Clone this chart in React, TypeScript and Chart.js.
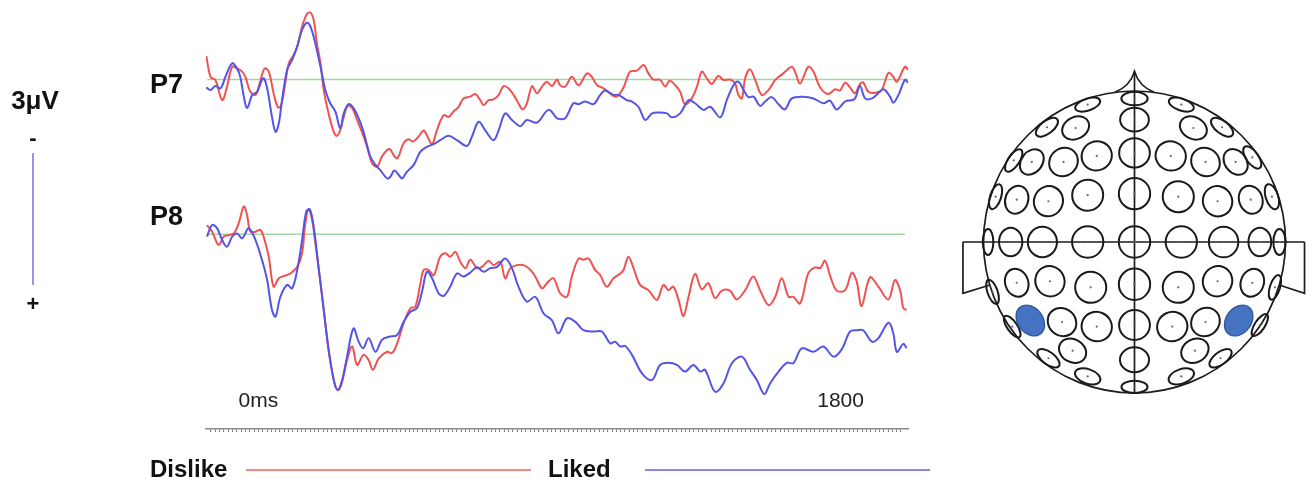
import React, { useEffect, useRef } from 'react';
import { Chart, registerables } from 'chart.js';

Chart.register(...registerables);

// ---- Data: [time (ms), amplitude (µV, negative plotted up)] ----
const p7Dislike: [number, number][] = [[-161,-0.53],[-148,-0.06],[-133,0.01],[-112,0.47],[-97,0.16],[-81,-0.29],[-66,-0.25],[-50,-0.18],[-40,-0.06],[-25,0.28],[-9,0.35],[1,0.16],[19,-0.25],[32,-0.18],[47,0.31],[60,0.63],[70,0.60],[83,0.09],[94,-0.37],[109,-0.56],[120,-0.75],[135,-1.20],[150,-1.49],[161,-1.52],[171,-1.35],[181,-0.82],[192,-0.37],[202,0.24],[217,0.77],[233,1.19],[243,1.28],[253,1.15],[264,0.85],[276,0.60],[290,0.65],[305,0.92],[320,1.19],[336,1.53],[351,1.90],[367,1.98],[382,1.75],[398,1.60],[408,1.59],[418,1.72],[430,1.79],[449,1.45],[464,1.36],[478,1.41],[495,1.30],[511,1.16],[523,1.30],[537,1.47],[552,1.15],[573,0.81],[588,0.85],[603,0.73],[619,0.62],[634,0.43],[655,0.39],[671,0.33],[686,0.47],[696,0.58],[712,0.47],[727,0.45],[743,0.35],[758,0.15],[773,0.20],[789,0.35],[804,0.54],[817,0.68],[830,0.54],[846,0.15],[861,0.31],[877,0.16],[892,0.05],[908,0.15],[923,0.00],[933,0.13],[949,0.16],[969,-0.06],[990,0.13],[1016,-0.14],[1031,-0.06],[1047,0.13],[1067,0.20],[1093,0.35],[1108,0.39],[1129,0.18],[1149,-0.18],[1170,-0.20],[1191,-0.33],[1206,-0.14],[1221,0.00],[1242,0.01],[1258,0.16],[1271,0.03],[1289,0.13],[1304,0.28],[1319,0.56],[1340,0.43],[1356,0.16],[1371,-0.18],[1386,-0.03],[1402,0.10],[1422,-0.08],[1438,0.01],[1458,0.00],[1474,0.09],[1484,0.35],[1495,0.43],[1505,-0.03],[1520,-0.23],[1536,0.01],[1556,0.35],[1577,0.24],[1598,0.01],[1623,-0.14],[1649,-0.29],[1659,-0.18],[1675,0.09],[1700,-0.29],[1716,-0.18],[1737,0.18],[1762,0.33],[1783,0.22],[1798,0.25],[1814,0.07],[1829,0.18],[1845,0.31],[1860,0.10],[1870,0.07],[1886,0.28],[1907,0.30],[1927,0.24],[1948,-0.15],[1963,-0.06],[1974,0.05],[1999,-0.29],[2009,-0.22]];

const p7Liked: [number, number][] = [[-161,0.18],[-148,0.24],[-133,0.15],[-117,0.20],[-102,-0.06],[-81,-0.37],[-66,-0.25],[-56,-0.06],[-45,0.39],[-35,0.65],[-19,0.35],[-4,0.28],[15,-0.03],[27,0.20],[42,0.85],[53,1.19],[63,1.00],[73,0.47],[89,-0.22],[104,-0.44],[120,-0.75],[135,-1.13],[150,-1.29],[161,-1.20],[176,-0.82],[192,-0.29],[207,0.24],[222,0.54],[238,0.73],[253,1.11],[264,0.77],[279,0.56],[294,0.65],[310,0.88],[325,1.19],[346,1.75],[362,1.94],[377,2.06],[398,2.25],[408,2.21],[420,2.07],[434,2.17],[444,2.25],[459,2.10],[480,1.94],[501,1.64],[521,1.53],[542,1.47],[562,1.38],[588,1.28],[614,1.38],[645,1.51],[660,1.30],[681,0.96],[701,1.15],[727,1.38],[743,1.15],[763,0.77],[784,0.92],[810,1.06],[830,0.92],[861,0.98],[897,0.69],[923,0.88],[933,0.90],[949,0.88],[974,0.54],[990,0.56],[1010,0.50],[1036,0.56],[1057,0.35],[1072,0.25],[1098,0.35],[1113,0.35],[1139,0.47],[1155,0.50],[1175,0.62],[1196,0.92],[1217,0.77],[1237,0.75],[1263,0.77],[1278,0.86],[1304,0.77],[1330,0.47],[1350,0.54],[1376,0.69],[1397,0.62],[1428,0.86],[1448,0.47],[1469,0.13],[1484,0.05],[1500,0.24],[1515,0.40],[1531,0.39],[1551,0.60],[1567,0.50],[1587,0.40],[1608,0.56],[1628,0.68],[1649,0.43],[1685,0.39],[1716,0.43],[1747,0.54],[1767,0.48],[1788,0.68],[1814,0.50],[1834,0.47],[1845,0.43],[1860,0.15],[1876,0.43],[1897,0.43],[1917,0.31],[1933,0.22],[1953,0.39],[1963,0.53],[1979,0.35],[1999,0.01],[2009,0.07]];

const p8Dislike: [number, number][] = [[-159,-0.21],[-143,-0.06],[-123,0.24],[-107,0.05],[-92,0.02],[-76,-0.02],[-61,-0.25],[-45,-0.63],[-35,-0.44],[-25,-0.06],[-9,-0.06],[6,-0.10],[16,0.05],[32,0.51],[47,1.19],[63,1.00],[78,0.95],[99,0.89],[120,0.74],[135,0.43],[145,-0.25],[155,-0.57],[166,-0.33],[176,0.20],[192,1.11],[207,2.02],[222,2.86],[238,3.46],[248,3.54],[259,3.35],[274,2.86],[290,2.55],[305,2.97],[325,2.74],[341,2.86],[354,3.08],[372,2.82],[398,2.67],[413,2.70],[429,2.48],[449,2.02],[470,1.68],[485,1.65],[501,1.11],[511,0.81],[526,0.81],[542,0.93],[562,0.51],[578,0.43],[593,0.51],[609,0.40],[624,0.62],[640,0.77],[655,0.58],[676,0.77],[691,0.74],[712,0.60],[727,0.70],[748,0.62],[763,1.00],[779,0.77],[799,0.70],[820,0.70],[840,0.80],[856,0.96],[877,1.23],[892,1.11],[912,1.00],[933,1.34],[954,1.42],[969,0.96],[990,0.55],[1005,0.58],[1021,0.55],[1041,0.81],[1057,0.93],[1077,1.19],[1098,1.00],[1119,0.89],[1129,0.81],[1144,0.51],[1160,0.77],[1180,1.15],[1206,1.27],[1232,1.49],[1252,1.15],[1268,1.27],[1283,1.19],[1299,1.49],[1314,1.86],[1330,1.42],[1350,0.90],[1371,1.25],[1391,1.11],[1412,1.45],[1433,1.28],[1458,1.28],[1479,1.48],[1505,1.27],[1530,0.96],[1551,1.27],[1577,1.61],[1598,1.42],[1618,1.00],[1639,1.42],[1654,1.42],[1675,1.57],[1700,0.89],[1721,0.75],[1737,0.77],[1752,0.60],[1767,0.93],[1788,1.28],[1814,1.27],[1835,0.87],[1850,1.08],[1865,1.63],[1891,0.98],[1917,1.19],[1948,1.48],[1968,1.04],[1984,1.27],[1994,1.68],[2004,1.72]];

const p8Liked: [number, number][] = [[-159,0.05],[-143,-0.21],[-128,-0.14],[-112,0.13],[-97,0.28],[-81,0.05],[-66,-0.02],[-50,0.09],[-30,-0.14],[-9,0.13],[11,0.58],[27,1.04],[42,1.72],[53,1.87],[68,1.42],[89,1.15],[104,1.23],[120,0.81],[135,0.13],[148,-0.51],[159,-0.57],[171,-0.17],[186,0.74],[202,1.72],[217,2.63],[233,3.31],[245,3.54],[259,3.31],[274,2.78],[294,2.14],[310,2.44],[324,2.59],[341,2.36],[362,2.67],[382,2.40],[403,2.33],[429,2.29],[449,1.99],[470,1.76],[490,1.68],[506,1.30],[521,0.85],[537,1.00],[557,1.34],[573,1.40],[593,1.19],[614,0.89],[634,0.96],[655,0.87],[676,0.75],[696,0.85],[717,0.77],[738,0.74],[763,0.55],[784,0.77],[804,1.19],[830,1.53],[856,1.42],[882,1.80],[907,1.95],[928,2.25],[954,1.91],[980,1.99],[1005,2.18],[1036,2.21],[1062,2.21],[1088,2.48],[1103,2.44],[1119,2.55],[1134,2.54],[1155,2.74],[1186,3.16],[1217,3.31],[1242,2.97],[1268,2.92],[1294,2.97],[1319,3.12],[1345,2.97],[1366,3.12],[1381,3.08],[1412,3.58],[1438,3.39],[1464,2.93],[1495,2.78],[1520,3.08],[1541,3.31],[1564,3.63],[1582,3.39],[1608,3.12],[1634,2.92],[1654,2.93],[1680,2.59],[1716,2.67],[1747,2.55],[1778,2.78],[1804,2.61],[1829,2.21],[1850,2.18],[1870,2.18],[1897,2.44],[1917,2.36],[1948,2.01],[1963,2.25],[1974,2.67],[1994,2.49],[2004,2.59]];

const p7Baseline: [number, number][] = [[-158, 0], [2009, 0]];
const p8Baseline: [number, number][] = [[-158, 0], [1999, 0]];

const electrodeNames = ['P7', 'P8'];
const conditionNames = ['Dislike', 'Liked'];
const timeLabels: [number, string][] = [[0, '0ms'], [1800, '1800']];
const scaleBarUV = 3;
const scaleBarText = '3\u03bcV';
const rulerTicks = Array.from({ length: 161 }, (_, k) => ((k - 11) * 40) / 3);

// Head map: electrode sites on a normalised head (x right, y down, radius 1)
const electrodeX = [
  -0.31, 0, 0.31,
  -0.58, -0.39, 0, 0.39, 0.58,
  -0.80, -0.68, -0.47, -0.25, 0, 0.24, 0.47, 0.67, 0.78,
  -0.92, -0.78, -0.57, -0.31, 0, 0.29, 0.55, 0.77, 0.91,
  -0.97, -0.82, -0.61, -0.31, 0, 0.31, 0.59, 0.83, 0.96,
  -0.94, -0.78, -0.56, -0.29, 0, 0.29, 0.55, 0.78, 0.93,
  -0.81, -0.48, -0.25, 0, 0.25, 0.47, 0.83,
  -0.57, -0.41, 0, 0.40, 0.57,
  -0.31, 0.31, 0,
];
const electrodeY = [
  -0.91, -0.95, -0.91,
  -0.76, -0.755, -0.81, -0.755, -0.76,
  -0.54, -0.53, -0.53, -0.57, -0.59, -0.57, -0.53, -0.53, -0.56,
  -0.30, -0.28, -0.27, -0.31, -0.32, -0.30, -0.27, -0.28, -0.30,
  0, 0, 0, 0, 0, 0, 0, 0, 0,
  0.33, 0.27, 0.26, 0.30, 0.28, 0.30, 0.26, 0.27, 0.30,
  0.56, 0.53, 0.56, 0.55, 0.56, 0.53, 0.55,
  0.77, 0.72, 0.78, 0.72, 0.77,
  0.89, 0.89, 0.96,
];
const activeSiteX = [-0.69, 0.69];
const activeSiteY = [0.52, 0.52];

const RED = 'rgb(240, 82, 82)';
const BLUE = 'rgb(84, 84, 230)';
const GREEN = 'rgb(168, 212, 168)';
const TEXT_FONT = '"Liberation Sans", Arial, sans-serif';

const toXY = (pairs: [number, number][]) => pairs.map(([x, y]) => ({ x, y }));

const eegLabelsPlugin = {
  id: 'eegLabels',
  afterDraw(chart: any) {
    const { ctx } = chart;
    const xs = chart.scales.x;
    const y7 = chart.scales.yP7;
    ctx.save();
    ctx.fillStyle = '#111';
    ctx.font = `bold 27px ${TEXT_FONT}`;
    ctx.textAlign = 'right';
    ctx.textBaseline = 'middle';
    ctx.fillText(electrodeNames[0], 183, 86);
    ctx.fillText(electrodeNames[1], 183, 218);
    ctx.font = `21px ${TEXT_FONT}`;
    ctx.textAlign = 'center';
    ctx.fillStyle = '#222';
    timeLabels.forEach(([v, s]) => ctx.fillText(s, xs.getPixelForValue(v), 401));
    ctx.fillStyle = '#111';
    ctx.font = `bold 26px ${TEXT_FONT}`;
    ctx.fillText(scaleBarText, 35, 102);
    ctx.font = `bold 22px ${TEXT_FONT}`;
    ctx.fillText('-', 33, 139);
    ctx.fillText('+', 33, 305);
    const barLen = y7.getPixelForValue(scaleBarUV) - y7.getPixelForValue(0);
    ctx.strokeStyle = 'rgb(150, 150, 228)';
    ctx.lineWidth = 2;
    ctx.beginPath();
    ctx.moveTo(33, 153);
    ctx.lineTo(33, 153 + barLen);
    ctx.stroke();
    const ds = chart.data.datasets;
    ctx.font = `bold 24px ${TEXT_FONT}`;
    ctx.textAlign = 'left';
    ctx.fillStyle = '#111';
    ctx.fillText(ds[1].label, 150, 470);
    ctx.fillText(ds[0].label, 548, 470);
    ctx.lineWidth = 2;
    ctx.globalAlpha = 0.7;
    ctx.strokeStyle = ds[1].borderColor;
    ctx.beginPath();
    ctx.moveTo(246, 470);
    ctx.lineTo(531, 470);
    ctx.stroke();
    ctx.strokeStyle = ds[0].borderColor;
    ctx.beginPath();
    ctx.moveTo(645, 470);
    ctx.lineTo(930, 470);
    ctx.stroke();
    ctx.restore();
  },
};

const headPlugin = {
  id: 'headMap',
  afterDatasetsDraw(chart: any) {
    const { ctx } = chart;
    const xs = chart.scales.x;
    const ys = chart.scales.y;
    const px = (v: number) => xs.getPixelForValue(v);
    const py = (v: number) => ys.getPixelForValue(v);
    const unit = px(1) - px(0);
    ctx.save();
    ctx.strokeStyle = '#1c1c1c';
    ctx.lineWidth = 1.7;
    ctx.beginPath();
    ctx.arc(px(0), py(0), unit, 0, Math.PI * 2);
    ctx.stroke();
    ctx.beginPath();
    ctx.moveTo(px(-0.13), py(-0.992));
    ctx.quadraticCurveTo(px(-0.03), py(-1.03), px(0), py(-1.13));
    ctx.quadraticCurveTo(px(0.03), py(-1.03), px(0.13), py(-0.992));
    ctx.stroke();
    ctx.beginPath();
    ctx.moveTo(px(-1.136), py(0));
    ctx.lineTo(px(-1.136), py(0.34));
    ctx.lineTo(px(-0.958), py(0.285));
    ctx.moveTo(px(1.126), py(0));
    ctx.lineTo(px(1.126), py(0.34));
    ctx.lineTo(px(0.958), py(0.285));
    ctx.stroke();
    ctx.beginPath();
    ctx.moveTo(px(-1.136), py(0));
    ctx.lineTo(px(1.126), py(0));
    ctx.moveTo(px(0), py(-1.13));
    ctx.lineTo(px(0), py(1));
    ctx.stroke();

    const drawSites = (dsIndex: number, xsArr: number[], ysArr: number[], filled: boolean) => {
      const meta = chart.getDatasetMeta(dsIndex);
      meta.data.forEach((pt: any, i: number) => {
        const nx = xsArr[i];
        const ny = ysArr[i];
        const r = Math.min(0.985, Math.hypot(nx, ny));
        const theta = Math.atan2(ny, nx);
        const scale = filled ? 1.2 : 1;
        const tang = 0.104 * unit * (1 - 0.2 * Math.pow(r, 4)) * scale;
        const rad = 0.104 * unit * Math.max(0.32, Math.sqrt(1 - Math.pow(r, 4))) * scale;
        ctx.beginPath();
        ctx.ellipse(pt.x, pt.y, filled ? Math.max(rad, tang * 0.72) : rad, tang, theta, 0, Math.PI * 2);
        if (filled) {
          ctx.fillStyle = 'rgb(70, 114, 194)';
          ctx.fill();
          ctx.strokeStyle = 'rgb(52, 88, 160)';
          ctx.lineWidth = 1.4;
          ctx.stroke();
        } else {
          ctx.strokeStyle = '#1a1a1a';
          ctx.lineWidth = 2;
          ctx.stroke();
          ctx.fillStyle = '#666';
          ctx.beginPath();
          ctx.arc(pt.x, pt.y, 1.1, 0, Math.PI * 2);
          ctx.fill();
        }
      });
    };
    drawSites(0, electrodeX, electrodeY, false);
    drawSites(1, activeSiteX, activeSiteY, true);
    ctx.restore();
  },
};

export default function App() {
  const mainRef = useRef<HTMLCanvasElement>(null);
  const headRef = useRef<HTMLCanvasElement>(null);

  useEffect(() => {
    const traceStyle = { pointRadius: 0, borderWidth: 2, tension: 0.35, fill: false };
    const main = new Chart(mainRef.current as HTMLCanvasElement, {
      type: 'line',
      data: {
        datasets: [
          { label: conditionNames[1], data: toXY(p7Liked), yAxisID: 'yP7', borderColor: BLUE, ...traceStyle },
          { label: conditionNames[0], data: toXY(p7Dislike), yAxisID: 'yP7', borderColor: RED, ...traceStyle },
          { label: conditionNames[1], data: toXY(p8Liked), yAxisID: 'yP8', borderColor: BLUE, ...traceStyle },
          { label: conditionNames[0], data: toXY(p8Dislike), yAxisID: 'yP8', borderColor: RED, ...traceStyle },
          { label: 'P7 baseline', data: toXY(p7Baseline), yAxisID: 'yP7', borderColor: GREEN, borderWidth: 1.6, pointRadius: 0, tension: 0 },
          { label: 'P8 baseline', data: toXY(p8Baseline), yAxisID: 'yP8', borderColor: GREEN, borderWidth: 1.6, pointRadius: 0, tension: 0 },
        ],
      } as any,
      options: {
        responsive: false,
        animation: false,
        devicePixelRatio: 1,
        layout: { padding: { left: 206, right: 41.5, top: 0, bottom: 51 } },
        plugins: { legend: { display: false }, tooltip: { enabled: false } },
        scales: {
          x: {
            type: 'linear',
            min: -162,
            max: 2010,
            afterBuildTicks: (s: any) => {
              s.ticks = rulerTicks.map((v) => ({ value: v }));
            },
            ticks: { display: false },
            grid: { drawOnChartArea: false, drawTicks: true, tickLength: 3, color: '#7a7a7a', lineWidth: 1 },
            border: { display: true, color: '#8a8a8a', dash: [1, 1], width: 1.5 },
          },
          yP7: { type: 'linear', reverse: true, min: -1.807, max: 7.943, display: false },
          yP8: { type: 'linear', reverse: true, min: -5.325, max: 4.425, display: false },
        },
      } as any,
      plugins: [eegLabelsPlugin],
    });

    const head = new Chart(headRef.current as HTMLCanvasElement, {
      type: 'scatter',
      data: {
        datasets: [
          { label: 'electrodes', data: electrodeX.map((x, i) => ({ x, y: electrodeY[i] })), pointRadius: 0 },
          { label: electrodeNames.join('/'), data: activeSiteX.map((x, i) => ({ x, y: activeSiteY[i] })), pointRadius: 0 },
        ],
      },
      options: {
        responsive: false,
        animation: false,
        devicePixelRatio: 1,
        layout: { padding: { left: 3.3, right: 0.3, top: 60.8, bottom: 59.8 } },
        plugins: { legend: { display: false }, tooltip: { enabled: false } },
        scales: {
          x: { type: 'linear', min: -1.2, max: 1.2, display: false },
          y: { type: 'linear', min: -1.2, max: 1.2, reverse: true, display: false },
        },
      } as any,
      plugins: [headPlugin],
    });

    return () => {
      main.destroy();
      head.destroy();
    };
  }, []);

  return (
    <div style={{ position: 'fixed', left: 0, top: 0, width: 1316, height: 483, background: '#fff' }}>
      <canvas ref={mainRef} width={950} height={483} style={{ position: 'absolute', left: 0, top: 0, width: 950, height: 483 }} />
      <canvas ref={headRef} width={366} height={483} style={{ position: 'absolute', left: 950, top: 0, width: 366, height: 483 }} />
    </div>
  );
}
